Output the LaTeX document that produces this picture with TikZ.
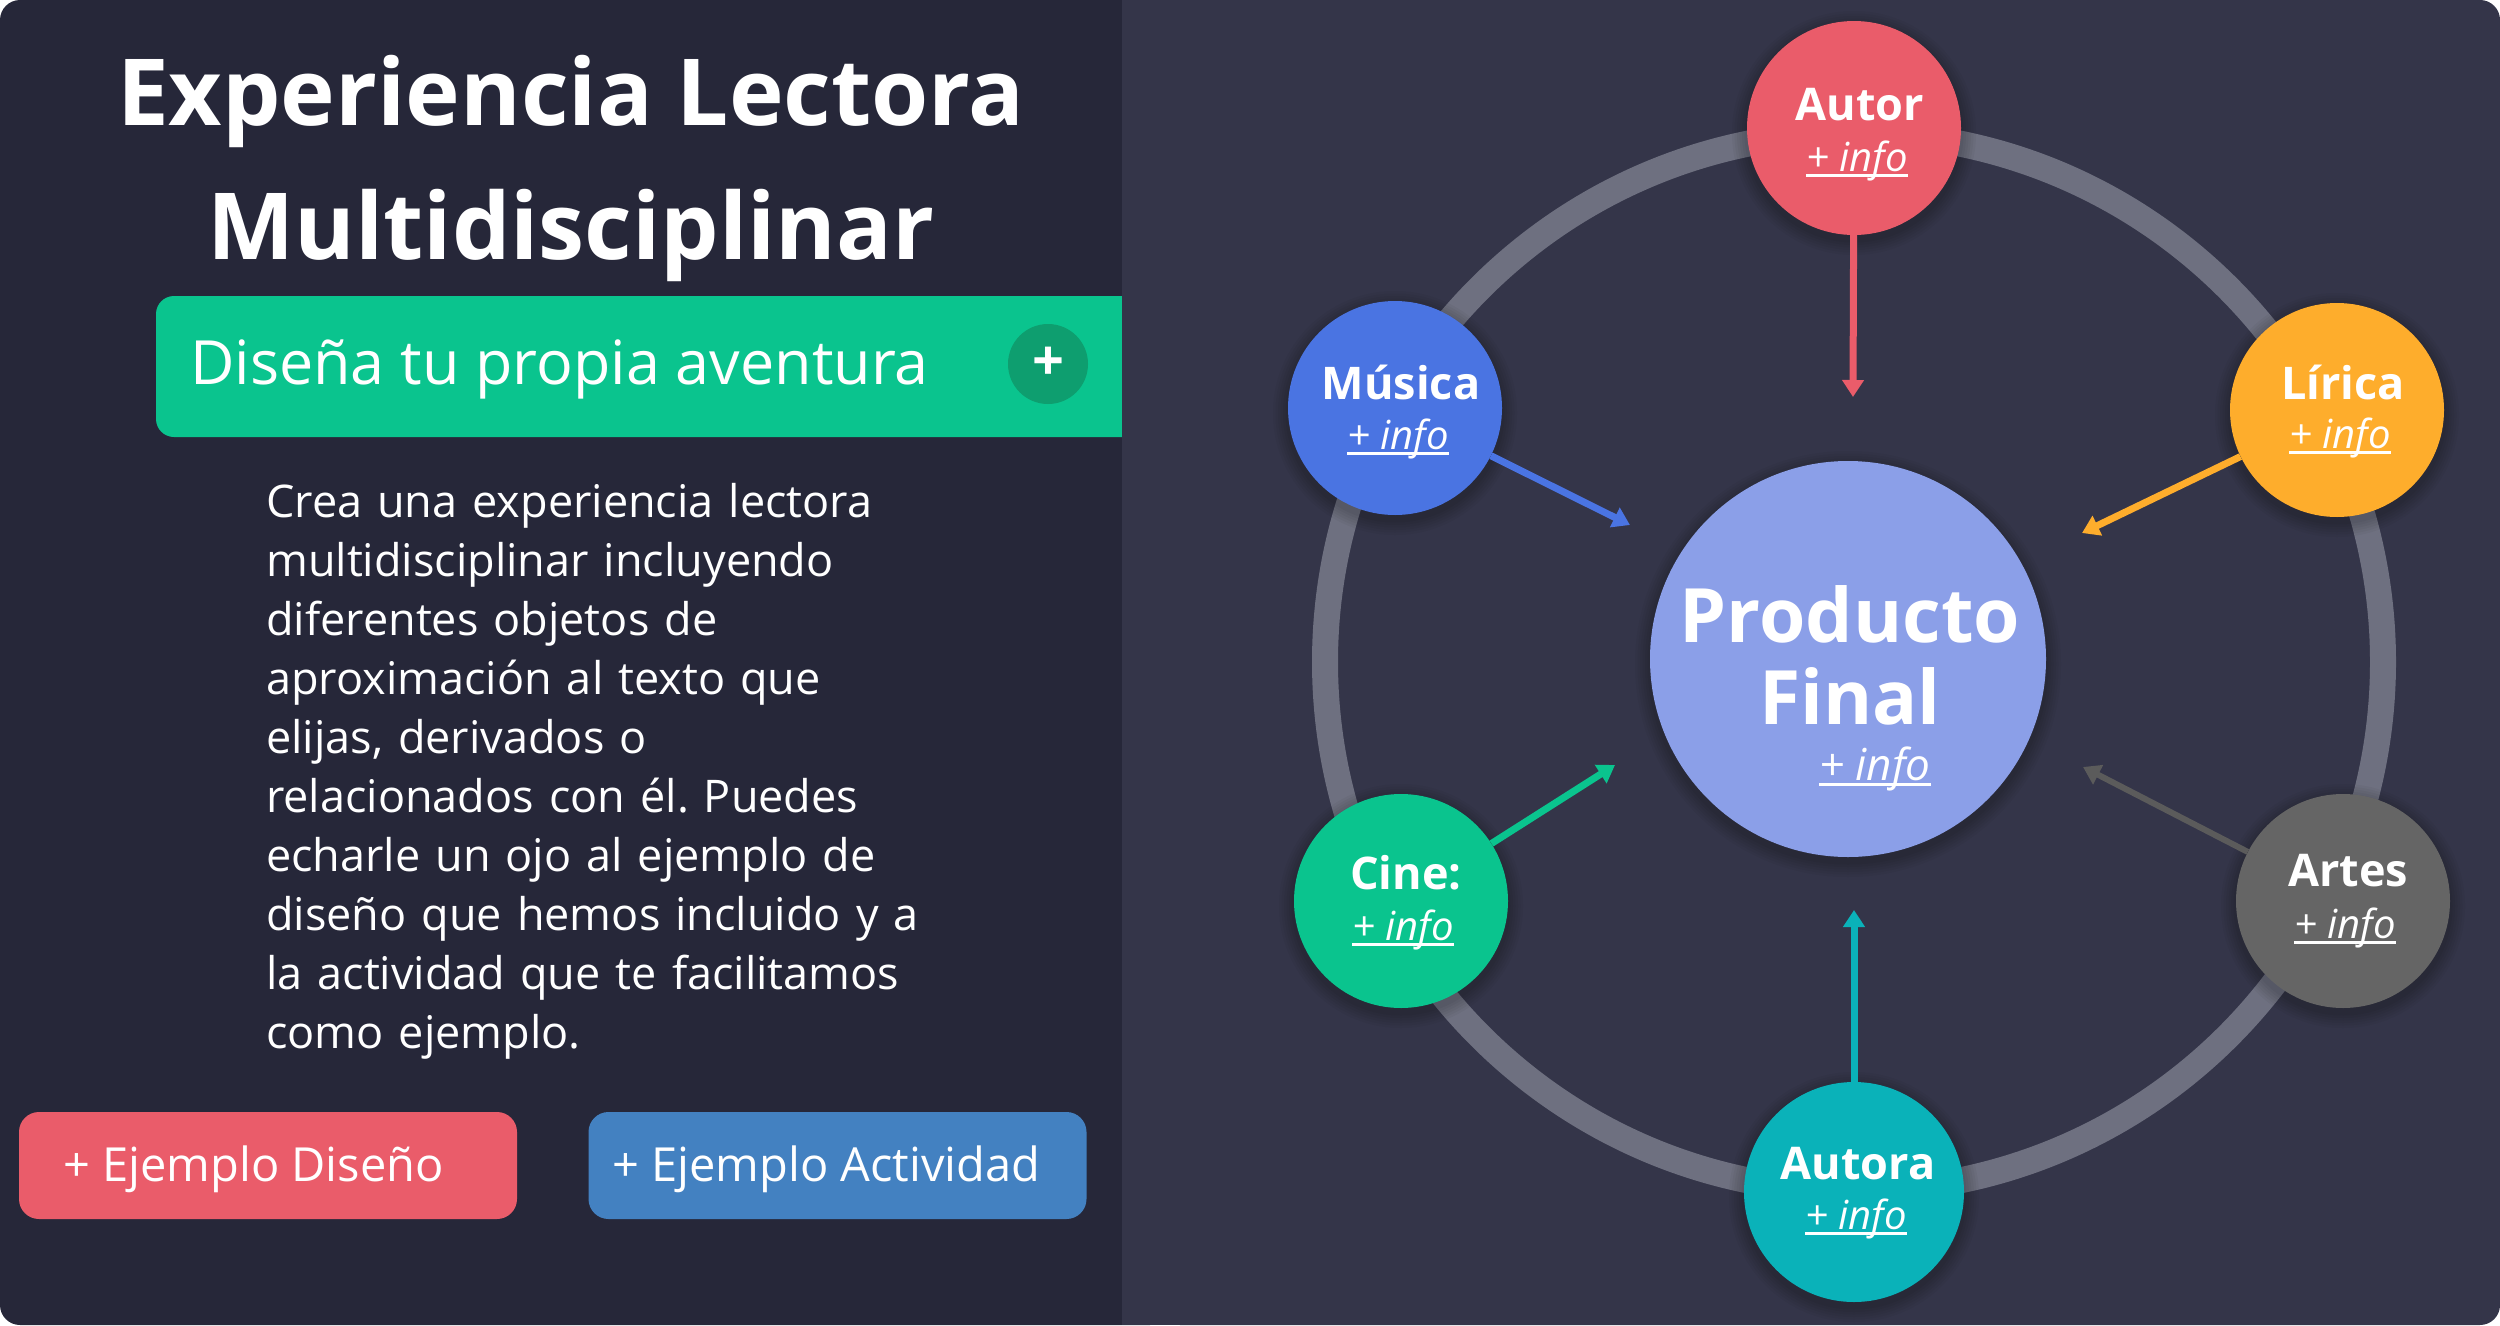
\documentclass[tikz,border=0pt]{standalone}
\usepackage{fontspec}
\setmainfont{Open Sans}
\usetikzlibrary{arrows.meta}
\frenchspacing
\definecolor{leftbg}{HTML}{262739}
\definecolor{rightbg}{HTML}{343549}
\definecolor{ringc}{HTML}{6E7080}
\definecolor{greenbar}{HTML}{0AC48E}
\definecolor{plusc}{HTML}{0E9E6F}
\definecolor{redc}{HTML}{EA5C6A}
\definecolor{bluebtn}{HTML}{4381C1}
\definecolor{musicac}{HTML}{4A74E2}
\definecolor{liricac}{HTML}{FEAD2C}
\definecolor{cinec}{HTML}{0AC48E}
\definecolor{artesc}{HTML}{656565}
\definecolor{autorac}{HTML}{0AB2B9}
\definecolor{prodc}{HTML}{8B9FE8}
\newcommand{\infotxt}[1]{\setbox0=\hbox{#1}\rlap{\rule[-6pt]{\wd0}{3pt}}\box0}
\newcommand{\softshadow}[3]{\foreach \k in {1,...,6} {\fill[black, opacity=0.035] (#1,#2+5) circle [radius=#3pt+2.5pt*\k];}}
\tikzset{
  bub/.style={circle, minimum size=214pt, inner sep=0pt},
  lbl/.style={text=white, inner sep=0pt, anchor=base, font=\bfseries\fontsize{45}{50}\selectfont},
  inf/.style={text=white, inner sep=0pt, anchor=base, font=\itshape\fontsize{40}{44}\selectfont},
  arr/.style={line width=7pt, -{Triangle[length=17pt,width=21pt]}},
  btn/.style={rounded corners=20pt, minimum width=498pt, minimum height=107pt, inner sep=0pt},
  btntxt/.style={text=white, inner sep=0pt, anchor=base west, font=\fontsize{47}{50}\selectfont},
  ttl/.style={text=white, inner sep=0pt, anchor=base, font=\bfseries\fontsize{92.5}{100}\selectfont}
}
\begin{document}
\begin{tikzpicture}[x=1pt, y=-1pt]
\useasboundingbox (0,0) rectangle (2500,1325);
\fill[white] (0,0) rectangle (2500,1325);
% left panel
\fill[leftbg, rounded corners=20pt] (0,0) rectangle (1170,1325);
\node[ttl] (t1) at (571,125) {Experiencia Lectora};
\node[ttl] (t2) at (571,259) {Multidisciplinar};
\node[fill=greenbar, rounded corners=18pt, minimum width=1000pt, minimum height=141pt, inner sep=0pt] (bar) at (656,366.5) {};
\node[text=white, inner sep=0pt, anchor=base west, font=\fontsize{61}{66}\selectfont] (bartxt) at (190,384) {Diseña tu propia aventura};
\node[circle, fill=plusc, minimum size=80pt, inner sep=0pt, text=white, font=\bfseries\fontsize{56}{60}\selectfont] (plus) at (1048,364) {+};
\node[text=white, inner sep=0pt, anchor=base west, text width=720pt, align=left, font=\fontsize{45}{59}\selectfont] (para) at (266,517) {Crea una experiencia lectora\\
multidisciplinar incluyendo\\
diferentes objetos de\\
aproximación al texto que\\
elijas, derivados o\\
relacionados con él. Puedes\\
echarle un ojo al ejemplo de\\
diseño que hemos incluido y a\\
la actividad que te facilitamos\\
como ejemplo.};
\node[btn, fill=redc] (btn1) at (268,1165.5) {};
\node[btn, fill=bluebtn] (btn2) at (837.5,1165.5) {};
\node[btntxt] (btn1t) at (63,1181) {+ Ejemplo Diseño};
\node[btntxt] (btn2t) at (612,1181) {+ Ejemplo Actividad};
% right panel
\fill[rightbg] (1122,0) rectangle (1200,1325);
\fill[rightbg, rounded corners=20pt] (1160,0) rectangle (2500,1325);
\draw[ringc, line width=26pt] (1854,662) circle [radius=529pt];
% shadows
\softshadow{1854}{128}{107}
\softshadow{1395}{408}{107}
\softshadow{2337}{410}{107}
\softshadow{1401}{901}{107}
\softshadow{2343}{901}{107}
\softshadow{1854}{1192}{110}
\softshadow{1848}{659}{198}
% bubbles
\node[bub, fill=redc] (autor) at (1854,128) {};
\node[bub, fill=musicac] (musica) at (1395,408) {};
\node[bub, fill=liricac] (lirica) at (2337,410) {};
\node[bub, fill=cinec] (cine) at (1401,901) {};
\node[bub, fill=artesc] (artes) at (2343,901) {};
\node[bub, fill=autorac, minimum size=220pt] (autora) at (1854,1192) {};
\node[circle, fill=prodc, minimum size=396pt, inner sep=0pt] (prod) at (1848,659) {};
% labels
\node[lbl] (autorL) at (1860,120) {Autor};
\node[inf] (autorI) at (1857,171) {\infotxt{+ info}};
\node[lbl] (musicaL) at (1401,399) {Música};
\node[inf] (musicaI) at (1398,449) {\infotxt{+ info}};
\node[lbl] (liricaL) at (2343,399) {Lírica};
\node[inf] (liricaI) at (2340,448) {\infotxt{+ info}};
\node[lbl] (cineL) at (1406,889) {Cine:};
\node[inf] (cineI) at (1403,940) {\infotxt{+ info}};
\node[lbl] (artesL) at (2348,886) {Artes};
\node[inf] (artesI) at (2345,938) {\infotxt{+ info}};
\node[lbl] (autoraL) at (1858,1179) {Autora};
\node[inf] (autoraI) at (1856,1229) {\infotxt{+ info}};
\node[text=white, inner sep=0pt, anchor=base, font=\bfseries\fontsize{75}{82}\selectfont] (prodL1) at (1850,642) {Producto};
\node[text=white, inner sep=0pt, anchor=base, font=\bfseries\fontsize{75}{82}\selectfont] (prodL2) at (1850,724) {Final};
\node[text=white, inner sep=0pt, anchor=base, font=\itshape\fontsize{44}{48}\selectfont] (prodI) at (1875,780) {\infotxt{+ info}};
% arrows
\coordinate (autorTip) at (1853,397);
\coordinate (musicaTip) at (1630,525);
\coordinate (liricaTip) at (2082,533);
\coordinate (cineTip) at (1615,765);
\coordinate (artesTip) at (2083,767);
\coordinate (autoraTip) at (1854,910);
\draw[arr, redc] (autor) -- (autorTip);
\draw[arr, musicac] (musica) -- (musicaTip);
\draw[arr, liricac] (lirica) -- (liricaTip);
\draw[arr, cinec] (cine) -- (cineTip);
\draw[arr, artesc!90!black, line width=6pt] (artes) -- (artesTip);
\draw[arr, autorac] (autora) -- (autoraTip);
\end{tikzpicture}
\end{document}
